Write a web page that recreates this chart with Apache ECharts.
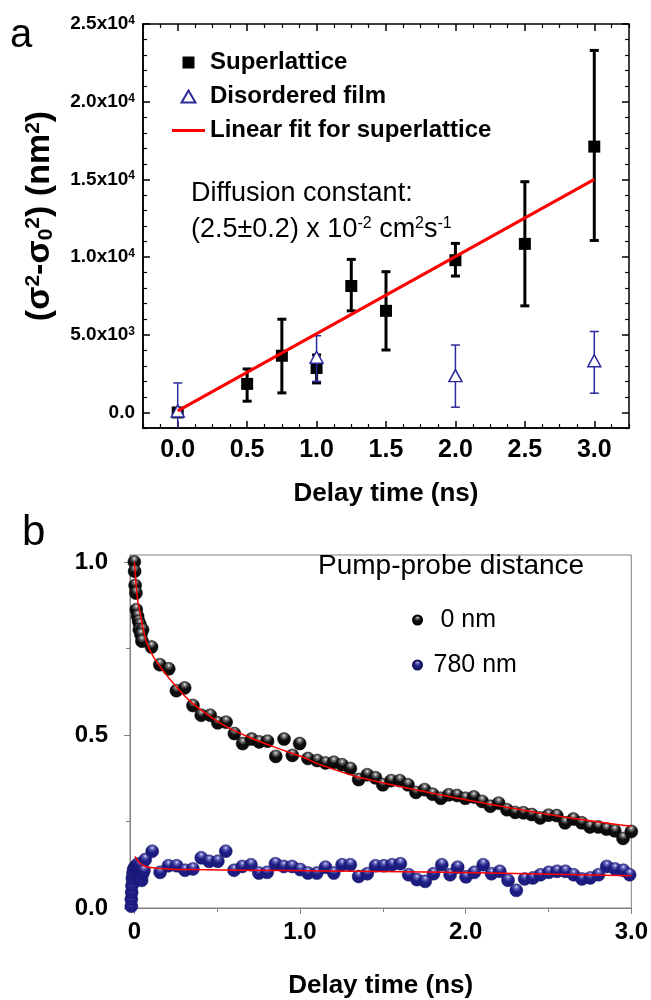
<!DOCTYPE html>
<html>
<head>
<meta charset="utf-8">
<script src="https://cdn.jsdelivr.net/npm/echarts@6.0.0/dist/echarts.min.js"></script>
<style>
  html, body { margin: 0; padding: 0; background: #fff; }
  #chart { width: 651px; height: 1000px; }
</style>
</head>
<body>
<div id="chart"></div>
<script>
// ---- panel a : spread vs delay time ----
const slTime = [0, 0.5, 0.75, 1.0, 1.25, 1.5, 2.0, 2.5, 3.0];
const slVal  = [0, 1840, 3650, 2860, 8140, 6540, 9800, 10850, 17110];
const slLow  = [0, 725, 1260, 1900, 6540, 4020, 8780, 6860, 11070];
const slHigh = [0, 2800, 6000, 3700, 9850, 9060, 10880, 14850, 23300];

const dfTime = [0, 1.0, 2.0, 3.0];
const dfVal  = [100, 3550, 2370, 3330];
const dfLow  = [-1900, 2000, 340, 1240];
const dfHigh = [1900, 4940, 4340, 5210];

const fitTime = [0, 3.0];
const fitVal  = [100, 15000];

const aXTicks = [0, 0.5, 1.0, 1.5, 2.0, 2.5, 3.0];
const aYTicks = [0, 5000, 10000, 15000, 20000, 25000];
const aYLabels = ['0.0', '5.0x10{sup|3}', '1.0x10{sup|4}', '1.5x10{sup|4}', '2.0x10{sup|4}', '2.5x10{sup|4}'];

// ---- panel b : pump-probe decay ----
const near0 = [
  [0.000, 1.000], [0.002, 0.973], [0.005, 0.932], [0.010, 0.910], [0.012, 0.862], [0.020, 0.843],
  [0.026, 0.828], [0.034, 0.819], [0.030, 0.804], [0.050, 0.804], [0.040, 0.790], [0.046, 0.771],
  [0.104, 0.754], [0.154, 0.703], [0.208, 0.691], [0.254, 0.628], [0.304, 0.636], [0.354, 0.585],
  [0.404, 0.557], [0.458, 0.557], [0.504, 0.535], [0.554, 0.537], [0.604, 0.504], [0.654, 0.475],
  [0.708, 0.488], [0.754, 0.480], [0.804, 0.482], [0.854, 0.438], [0.904, 0.488], [0.954, 0.441],
  [0.998, 0.475], [1.048, 0.432], [1.104, 0.426], [1.154, 0.419], [1.204, 0.421], [1.254, 0.414],
  [1.304, 0.403], [1.354, 0.371], [1.406, 0.385], [1.456, 0.376], [1.500, 0.356], [1.550, 0.368],
  [1.602, 0.368], [1.652, 0.356], [1.700, 0.334], [1.752, 0.342], [1.800, 0.329], [1.850, 0.317],
  [1.898, 0.327], [1.948, 0.325], [1.998, 0.317], [2.049, 0.321], [2.099, 0.308], [2.149, 0.294],
  [2.199, 0.303], [2.249, 0.284], [2.299, 0.276], [2.349, 0.275], [2.399, 0.270], [2.450, 0.260],
  [2.500, 0.268], [2.550, 0.267], [2.600, 0.246], [2.650, 0.257], [2.700, 0.246], [2.750, 0.234],
  [2.800, 0.234], [2.850, 0.228], [2.900, 0.223], [2.950, 0.201], [3.000, 0.221]
];
const far780 = [
  [-0.018, 0.005], [-0.018, 0.025], [-0.016, 0.045], [-0.014, 0.065], [-0.012, 0.085], [-0.008, 0.100],
  [-0.004, 0.112], [0.004, 0.118], [0.012, 0.122], [0.020, 0.127], [0.028, 0.118], [0.036, 0.125],
  [0.044, 0.080], [0.050, 0.098], [0.058, 0.108], [0.066, 0.140],
  [0.108, 0.164], [0.156, 0.103], [0.206, 0.122], [0.256, 0.122], [0.306, 0.109], [0.354, 0.113],
  [0.404, 0.145], [0.452, 0.135], [0.504, 0.135], [0.552, 0.164], [0.602, 0.109], [0.652, 0.120],
  [0.704, 0.125], [0.752, 0.101], [0.802, 0.103], [0.852, 0.128], [0.902, 0.120], [0.952, 0.120],
  [1.002, 0.111], [1.048, 0.101], [1.102, 0.101], [1.154, 0.118], [1.204, 0.101], [1.254, 0.125],
  [1.304, 0.125], [1.354, 0.091], [1.406, 0.099], [1.456, 0.122], [1.506, 0.122], [1.556, 0.125],
  [1.606, 0.128], [1.656, 0.096], [1.706, 0.082], [1.756, 0.077], [1.806, 0.099], [1.856, 0.125],
  [1.906, 0.096], [1.952, 0.118], [2.002, 0.090], [2.052, 0.103], [2.106, 0.125], [2.156, 0.099],
  [2.206, 0.106], [2.256, 0.080], [2.306, 0.051], [2.356, 0.084], [2.406, 0.087], [2.452, 0.096],
  [2.502, 0.103], [2.552, 0.106], [2.602, 0.106], [2.652, 0.096], [2.702, 0.084], [2.752, 0.087],
  [2.802, 0.096], [2.852, 0.120], [2.902, 0.113], [2.952, 0.109], [2.990, 0.096]
];
const fitNear = [
  [0, 1.0], [0.01, 0.939], [0.02, 0.891], [0.034, 0.855], [0.05, 0.814], [0.074, 0.768],
  [0.12, 0.722], [0.234, 0.650], [0.35, 0.592], [0.534, 0.530], [0.7, 0.492], [0.834, 0.467],
  [1.0, 0.439], [1.134, 0.412], [1.356, 0.378], [1.756, 0.336], [2.156, 0.299], [2.556, 0.266], [3.0, 0.236]
];
const fitFar = [
  [0.004, 0.149], [0.02, 0.138], [0.034, 0.130], [0.06, 0.122], [0.084, 0.118], [0.2, 0.113],
  [0.334, 0.111], [0.934, 0.108], [1.356, 0.106], [2.156, 0.101], [3.0, 0.093]
];

const bXTicks = [0, 1, 2, 3];
const bXMinor = [0.5, 1.5, 2.5];
const bYTicks = [0, 0.5, 1.0];
const bYMinor = [0.25, 0.75];

const FONT = 'Liberation Sans, Arial, sans-serif';
const NAVY = '#2a2a9c';

const chart = echarts.init(document.getElementById('chart'), null, { renderer: 'canvas' });

// vertical error bar with caps, drawn through the axis scale
function errorBar(capHalf, width, color) {
  return function (params, api) {
    const x = api.value(0);
    const lo = api.coord([x, api.value(1)]);
    const hi = api.coord([x, api.value(2)]);
    const st = { stroke: color, lineWidth: width };
    return {
      type: 'group',
      children: [
        { type: 'line', shape: { x1: lo[0], y1: lo[1], x2: hi[0], y2: hi[1] }, style: st },
        { type: 'line', shape: { x1: hi[0] - capHalf, y1: hi[1], x2: hi[0] + capHalf, y2: hi[1] }, style: st },
        { type: 'line', shape: { x1: lo[0] - capHalf, y1: lo[1], x2: lo[0] + capHalf, y2: lo[1] }, style: st }
      ]
    };
  };
}

// shaded sphere fill
function ball(hi, mid, dark) {
  return {
    type: 'radial', x: 0.5, y: 0.25, r: 0.8,
    colorStops: [
      { offset: 0, color: hi },
      { offset: 0.15, color: mid },
      { offset: 0.45, color: dark },
      { offset: 1, color: dark }
    ]
  };
}

// extra axis that only draws ticks (minor ticks, mirrored sides)
function tickAxis(grid, pos, min, max, values, len, inside, color, width) {
  return {
    type: 'value', gridIndex: grid, position: pos, min: min, max: max,
    axisLine: { show: false, onZero: false },
    axisTick: { show: true, customValues: values, inside: inside, length: len, lineStyle: { color: color, width: width } },
    axisLabel: { show: false },
    splitLine: { show: false }
  };
}

const supStyle = { fontSize: 12, fontWeight: 'bold', fontFamily: FONT, verticalAlign: 'top', lineHeight: 14, color: '#000' };

const aXMinor = [];
for (let i = -2; i <= 26; i++) if (i % 4 !== 0) aXMinor.push(i * 0.125);
const aYMinor = [];
for (let i = -1; i <= 25; i++) if (i % 5 !== 0) aYMinor.push(i * 1000);

const option = {
  backgroundColor: '#fff',
  animation: false,
  textStyle: { fontFamily: FONT },
  grid: [
    { left: 143, top: 24, right: 22, bottom: 572, show: true, borderColor: '#000', borderWidth: 1.5, backgroundColor: 'transparent' },
    { left: 130, top: 555, right: 18, bottom: 92, show: true, borderColor: '#808080', borderWidth: 1, backgroundColor: 'transparent' }
  ],
  xAxis: [
    {
      type: 'value', gridIndex: 0, position: 'bottom', min: -0.25, max: 3.25,
      axisLine: { show: true, onZero: false, lineStyle: { color: '#000', width: 1.5 } },
      axisTick: { show: true, customValues: aXTicks, inside: true, length: 7, lineStyle: { color: '#000', width: 1.5 } },
      axisLabel: { customValues: aXTicks, formatter: v => v.toFixed(1), color: '#000', fontSize: 25, fontWeight: 'bold', fontFamily: FONT, margin: 10 },
      splitLine: { show: false },
      name: 'Delay time (ns)', nameLocation: 'middle', nameGap: 53,
      nameTextStyle: { color: '#000', fontSize: 26, fontWeight: 'bold', fontFamily: FONT }
    },
    tickAxis(0, 'bottom', -0.25, 3.25, aXMinor, 4, true, '#000', 1.2),
    tickAxis(0, 'top', -0.25, 3.25, aXTicks, 7, true, '#000', 1.5),
    tickAxis(0, 'top', -0.25, 3.25, aXMinor, 4, true, '#000', 1.2),
    {
      type: 'value', gridIndex: 1, position: 'bottom', min: -0.026, max: 3.0,
      axisLine: { show: true, onZero: false, lineStyle: { color: '#808080', width: 1 } },
      axisTick: { show: true, customValues: bXTicks, inside: false, length: 6, lineStyle: { color: '#808080', width: 1 } },
      axisLabel: { customValues: bXTicks, formatter: v => (v === 0 ? '0' : v.toFixed(1)), color: '#000', fontSize: 24, fontWeight: 'bold', fontFamily: FONT, margin: 12 },
      splitLine: { show: false },
      name: 'Delay time (ns)', nameLocation: 'middle', nameGap: 65,
      nameTextStyle: { color: '#000', fontSize: 26, fontWeight: 'bold', fontFamily: FONT }
    },
    tickAxis(1, 'bottom', -0.026, 3.0, bXMinor, 4, false, '#808080', 1)
  ],
  yAxis: [
    {
      type: 'value', gridIndex: 0, position: 'left', min: -1000, max: 25000,
      axisLine: { show: true, onZero: false, lineStyle: { color: '#000', width: 1.5 } },
      axisTick: { show: true, customValues: aYTicks, inside: true, length: 7, lineStyle: { color: '#000', width: 1.5 } },
      axisLabel: {
        customValues: aYTicks,
        formatter: v => aYLabels[aYTicks.indexOf(v)],
        color: '#000', fontSize: 19, fontWeight: 'bold', fontFamily: FONT, margin: 8,
        rich: { sup: supStyle }
      },
      splitLine: { show: false }
    },
    tickAxis(0, 'left', -1000, 25000, aYMinor, 4, true, '#000', 1.2),
    tickAxis(0, 'right', -1000, 25000, aYTicks, 7, true, '#000', 1.5),
    tickAxis(0, 'right', -1000, 25000, aYMinor, 4, true, '#000', 1.2),
    {
      type: 'value', gridIndex: 1, position: 'left', min: 0, max: 1.02,
      axisLine: { show: true, onZero: false, lineStyle: { color: '#808080', width: 1 } },
      axisTick: { show: true, customValues: bYTicks, inside: false, length: 6, lineStyle: { color: '#808080', width: 1 } },
      axisLabel: { customValues: bYTicks, formatter: v => v.toFixed(1), color: '#000', fontSize: 24, fontWeight: 'bold', fontFamily: FONT, margin: 22 },
      splitLine: { show: false }
    },
    tickAxis(1, 'left', 0, 1.02, bYMinor, 4, false, '#808080', 1)
  ],
  legend: [
    {
      orient: 'vertical', left: 167, top: 44, itemWidth: 33, itemHeight: 12, itemGap: 7,
      symbolKeepAspect: true,
      data: [
        { name: 'Superlattice', icon: 'path://M0,0H10V10H0Z' },
        { name: 'Disordered film', icon: 'path://M6,0L12,10.4L0,10.4Z' },
        { name: 'Linear fit for superlattice', icon: 'path://M0,0H33V3H0Z' }
      ],
      textStyle: { color: '#000', fontSize: 24, fontWeight: 'bold', fontFamily: FONT, lineHeight: 27 },
      selectedMode: false
    },
    {
      orient: 'vertical', left: 407, top: 601, itemWidth: 22, itemHeight: 9, itemGap: 17,
      data: [' 0 nm', '780 nm'], icon: 'circle',
      textStyle: { color: '#000', fontSize: 25, fontFamily: FONT, lineHeight: 28 },
      selectedMode: false
    }
  ],
  graphic: [
    { type: 'text', left: 10, top: 16, style: { text: 'a', fontSize: 40, fontFamily: FONT, fill: '#000' } },
    { type: 'text', left: 22, top: 512, style: { text: 'b', fontSize: 42, fontFamily: FONT, fill: '#000' } },
    {
      type: 'text', x: 40, y: 216, rotation: Math.PI / 2,
      style: {
        text: '(σ{s|2}-σ{b|0}{s|2}) (nm{s|2})',
        fontSize: 34, fontWeight: 'bold', fontFamily: FONT, fill: '#000',
        align: 'center', verticalAlign: 'middle',
        rich: {
          s: { fontSize: 21, fontWeight: 'bold', fontFamily: FONT, verticalAlign: 'top', lineHeight: 22 },
          b: { fontSize: 21, fontWeight: 'bold', fontFamily: FONT, verticalAlign: 'bottom', lineHeight: 22 }
        }
      }
    },
    { type: 'text', left: 191, top: 180, style: { text: 'Diffusion constant:', fontSize: 27, fontFamily: FONT, fill: '#000' } },
    {
      type: 'text', left: 191, top: 216,
      style: {
        text: '(2.5±0.2) x 10{s|-2} cm{s|2}s{s|-1}', fontSize: 27, fontFamily: FONT, fill: '#000',
        rich: { s: { fontSize: 16, fontFamily: FONT, verticalAlign: 'top', lineHeight: 16 } }
      }
    },
    { type: 'text', left: 318, top: 552, style: { text: 'Pump-probe distance', fontSize: 28, fontFamily: FONT, fill: '#000' } }
  ],
  series: [
    {
      type: 'custom', name: 'slErr', xAxisIndex: 0, yAxisIndex: 0, clip: true, z: 2,
      renderItem: errorBar(4.5, 3, '#000'),
      encode: { x: 0, y: [1, 2] },
      data: slTime.map((t, i) => [t, slLow[i], slHigh[i]])
    },
    {
      type: 'scatter', name: 'Superlattice', xAxisIndex: 0, yAxisIndex: 0, z: 3,
      symbol: 'rect', symbolSize: 12,
      itemStyle: { color: '#000', opacity: 1 },
      data: slTime.map((t, i) => [t, slVal[i]])
    },
    {
      type: 'custom', name: 'dfErr', xAxisIndex: 0, yAxisIndex: 0, clip: true, z: 4,
      renderItem: errorBar(4.5, 1.5, NAVY),
      encode: { x: 0, y: [1, 2] },
      data: dfTime.map((t, i) => [t, dfLow[i], dfHigh[i]])
    },
    {
      type: 'scatter', name: 'Disordered film', xAxisIndex: 0, yAxisIndex: 0, z: 5,
      symbol: 'triangle', symbolSize: [13, 12],
      itemStyle: { color: '#fff', borderColor: NAVY, borderWidth: 1.5, opacity: 1 },
      data: dfTime.map((t, i) => [t, dfVal[i]])
    },
    {
      type: 'line', name: 'Linear fit for superlattice', xAxisIndex: 0, yAxisIndex: 0, z: 6,
      symbol: 'none', lineStyle: { color: '#ff0000', width: 3 }, itemStyle: { color: '#ff0000' },
      data: fitTime.map((t, i) => [t, fitVal[i]])
    },
    {
      type: 'scatter', name: ' 0 nm', xAxisIndex: 4, yAxisIndex: 4, z: 3,
      symbolSize: 13,
      itemStyle: { color: ball('#f2f2f2', '#7a7a7a', '#0c0c0c'), borderColor: '#000', borderWidth: 0.5, opacity: 1 },
      data: near0
    },
    {
      type: 'scatter', name: '780 nm', xAxisIndex: 4, yAxisIndex: 4, z: 3,
      symbolSize: 13,
      itemStyle: { color: ball('#e4e4ff', '#6a6ac0', '#1c1c82'), borderColor: '#12125a', borderWidth: 0.5, opacity: 1 },
      data: far780
    },
    {
      type: 'line', name: 'fitNear', xAxisIndex: 4, yAxisIndex: 4, z: 6, smooth: 0.3,
      symbol: 'none', lineStyle: { color: '#ff0000', width: 1.5 },
      data: fitNear
    },
    {
      type: 'line', name: 'fitFar', xAxisIndex: 4, yAxisIndex: 4, z: 6, smooth: 0.3,
      symbol: 'none', lineStyle: { color: '#ff0000', width: 1.5 },
      data: fitFar
    }
  ]
};

chart.setOption(option);
</script>
</body>
</html>
